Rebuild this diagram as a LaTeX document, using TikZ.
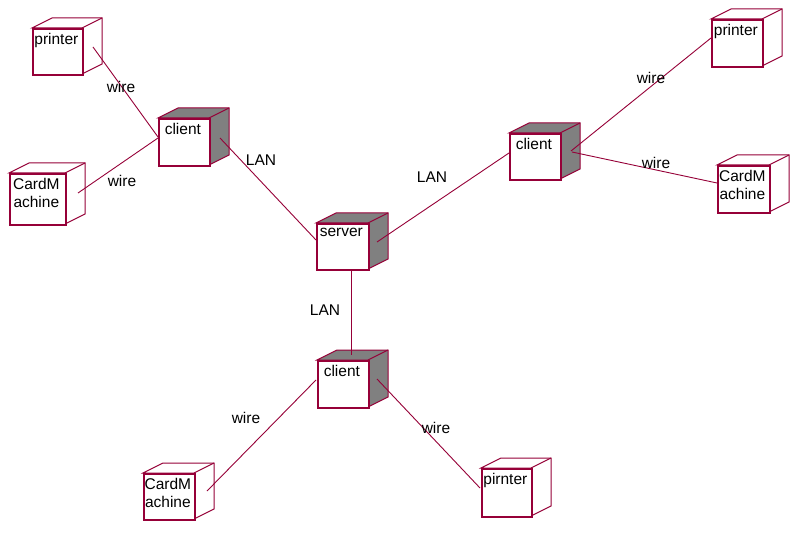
\documentclass[tikz,border=0pt]{standalone}
\usepackage{fontspec}
\setmainfont{Liberation Sans}
\usetikzlibrary{calc}
\definecolor{wine}{RGB}{150,0,56}
\definecolor{sidegray}{RGB}{128,128,128}
\tikzset{
  txt/.style={font=\fontsize{15.5}{18}\selectfont, inner sep=0pt, align=center},
  ubox/.style n args={3}{draw=wine, line width=1.7pt, fill=white,
    minimum width=#1, minimum height=#2, inner sep=0pt, anchor=north west,
    label={[txt, anchor=north, xshift=-1.5pt, yshift=-5pt]north:#3}},
  face/.style={draw=wine, line width=1pt, line join=miter},
  conn/.style={draw=wine, line width=0.9pt},
  lbl/.style={txt}
}
% name, x, y, width, height, side fill, text
\newcommand\udev[7]{%
  \filldraw[face, fill=#6] (#2,#3) -- ++(20,-10) -- ++(#4,0) -- ++(0,#5) -- ++(-20,10) -- ++(0,-#5) -- cycle;
  \draw[face] (#2+#4,#3) -- ++(20,-10);
  \node[ubox={#4pt}{#5pt}{#7}] (#1) at (#2,#3) {};
}
\begin{document}
\begin{tikzpicture}[x=1pt, y=-1pt]
\useasboundingbox (0,0) rectangle (799,534);
\fill[white] (0,0) rectangle (799,534);

% devices
\udev{ptl}{32}{28}{50}{46}{white}{printer}
\udev{cml}{9}{173}{56}{51}{white}{CardM\\achine}
\udev{ctl}{158}{118}{51}{47}{sidegray}{client}
\udev{srv}{316}{223}{52}{46}{sidegray}{server}
\udev{cr}{509}{133}{51}{46}{sidegray}{client}
\udev{ptr}{711}{19}{51}{47}{white}{printer}
\udev{cmr}{717}{165}{52}{47}{white}{CardM\\achine}
\udev{cb}{317}{360}{51}{47}{sidegray}{client}
\udev{cmb}{143}{473}{51}{46}{white}{CardM\\achine}
\udev{pbr}{481}{468}{50}{48}{white}{pirnter}

% connector end points
\coordinate (ptl-c) at (93,47);
\coordinate (ctl-w1) at (158,137);
\coordinate (cml-c) at (78,193);
\coordinate (ctl-w2) at (158,138);
\coordinate (ctl-c) at (220,138);
\coordinate (srv-w) at (316,240);
\coordinate (srv-c) at (377,242);
\coordinate (cr-w) at (509,153);
\coordinate (cr-c1) at (571,151);
\coordinate (ptr-w) at (711,38);
\coordinate (cr-c2) at (572,152);
\coordinate (cmr-w) at (717,183);
\coordinate (srv-s) at (351.5,269);
\coordinate (cb-t) at (351.5,355);
\coordinate (cb-w) at (316,380);
\coordinate (cmb-c) at (207,491);
\coordinate (cb-c) at (377,379);
\coordinate (pbr-w) at (480,488);

% connectors
\draw[conn] (ptl-c) -- (ctl-w1);
\draw[conn] (cml-c) -- (ctl-w2);
\draw[conn] (ctl-c) -- (srv-w);
\draw[conn] (srv-c) -- (cr-w);
\draw[conn] (cr-c1) -- (ptr-w);
\draw[conn] (cr-c2) -- (cmr-w);
\draw[conn] (srv-s) -- (cb-t);
\draw[conn] (cb-w) -- (cmb-c);
\draw[conn] (cb-c) -- (pbr-w);

% connector labels
\node[lbl] (l1) at (121,87) {wire};
\node[lbl] (l2) at (122,181) {wire};
\node[lbl] (l3) at (261,160) {LAN};
\node[lbl] (l4) at (432,177) {LAN};
\node[lbl] (l5) at (651,78) {wire};
\node[lbl] (l6) at (656,163) {wire};
\node[lbl] (l7) at (325,310) {LAN};
\node[lbl] (l8) at (246,418) {wire};
\node[lbl] (l9) at (436,428) {wire};
\end{tikzpicture}
\end{document}
